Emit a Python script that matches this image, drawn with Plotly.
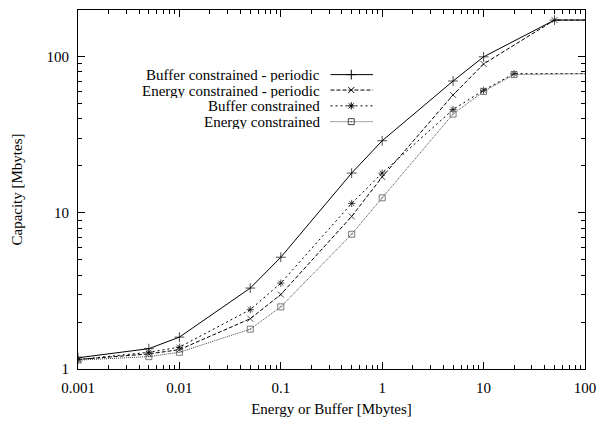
import plotly.graph_objects as go

# Data
buf_periodic_x = [0.001, 0.005, 0.01, 0.05, 0.1, 0.5, 1, 5, 10, 50, 100]
buf_periodic_y = [1.18, 1.35, 1.6, 3.3, 5.2, 18, 29, 70, 100, 172, 172]

energy_periodic_x = [0.001, 0.005, 0.01, 0.05, 0.1, 0.5, 1, 5, 10, 50, 100]
energy_periodic_y = [1.15, 1.25, 1.33, 2.1, 3.0, 9.5, 17, 57, 90, 172, 172]

buf_x = [0.001, 0.005, 0.01, 0.05, 0.1, 0.5, 1, 5, 10, 20, 100]
buf_y = [1.15, 1.28, 1.38, 2.4, 3.55, 11.5, 18, 46, 61, 78, 78]

energy_x = [0.001, 0.005, 0.01, 0.05, 0.1, 0.5, 1, 5, 10, 20, 100]
energy_y = [1.14, 1.2, 1.28, 1.8, 2.5, 7.3, 12.5, 43, 60, 77, 78]

series_names = ["Buffer constrained - periodic", "Energy constrained - periodic",
                "Buffer constrained", "Energy constrained"]

x_tick_vals = [0.001, 0.01, 0.1, 1, 10, 100]
x_tick_text = ["0.001", "0.01", "0.1", "1", "10", "100"]
y_tick_vals = [1, 10, 100]
y_tick_text = ["1", "10", "100"]

FONT = "Liberation Serif, Times New Roman, serif"
FS = 15
styles = [
    dict(color="black", dash="solid", symbol="cross-thin-open", size=7),
    dict(color="black", dash="4px,2px", symbol="x-thin-open", size=6),
    dict(color="black", dash="2px,3px", symbol="asterisk-open", size=6),
    dict(color="#444444", dash="1px,1px", symbol="square-open-dot", size=6),
]
data = [(buf_periodic_x, buf_periodic_y), (energy_periodic_x, energy_periodic_y),
        (buf_x, buf_y), (energy_x, energy_y)]

fig = go.Figure()
for (xs, ys), st, name in zip(data, styles, series_names):
    sizes = [st["size"]] * (len(xs) - 1) + [0]
    fig.add_trace(go.Scatter(
        x=xs, y=ys, mode="lines+markers", name=name, showlegend=False,
        line=dict(color=st["color"], width=1, dash=st["dash"]),
        marker=dict(symbol=st["symbol"], size=sizes, color=st["color"],
                    line=dict(width=1, color=st["color"])),
    ))

# Legend drawn gnuplot-style (text right-aligned, sample to its right)
leg_y = [0.820, 0.777, 0.733, 0.689]
for i, (st, name) in enumerate(zip(styles, series_names)):
    fig.add_trace(go.Scatter(
        x=[0.498, 0.582], y=[leg_y[i], leg_y[i]], xaxis="x2", yaxis="y2",
        mode="lines", showlegend=False, hoverinfo="skip",
        line=dict(color=st["color"], width=1, dash=st["dash"]),
    ))
    fig.add_trace(go.Scatter(
        x=[0.539], y=[leg_y[i]], xaxis="x2", yaxis="y2",
        mode="markers", showlegend=False, hoverinfo="skip",
        marker=dict(symbol=st["symbol"], size=st["size"], color=st["color"],
                    line=dict(width=1, color=st["color"])),
    ))
    fig.add_annotation(x=0.480, y=leg_y[i], xref="paper", yref="paper",
                       text=name, showarrow=False, xanchor="right", yanchor="middle",
                       height=15, borderpad=0,
                       font=dict(family=FONT, size=FS, color="black"))

minor_x = [m * 10 ** e for e in range(-3, 2) for m in range(2, 10)]
minor_y = [m * 10 ** e for e in range(0, 3) for m in range(2, 10)]

fig.update_layout(
    width=605, height=424,
    margin=dict(l=78, r=15, t=9, b=48),
    paper_bgcolor="white", plot_bgcolor="white",
    font=dict(family=FONT, size=FS, color="black"),
    xaxis=dict(
        type="log", range=[-3, 2], tickvals=x_tick_vals, ticktext=x_tick_text,
        ticks="inside", ticklen=7, tickcolor="black", showline=True, linecolor="black",
        linewidth=1, mirror="allticks", showgrid=False, zeroline=False,
        minor=dict(tickvals=minor_x, ticks="inside", ticklen=4, tickcolor="black", showgrid=False),
        title=dict(text="Energy or Buffer [Mbytes]", font=dict(family=FONT, size=FS), standoff=8),
        tickfont=dict(family=FONT, size=FS), ticklabelstandoff=5,
    ),
    yaxis=dict(
        type="log", range=[0, 2.3], tickvals=y_tick_vals, ticktext=y_tick_text,
        ticks="inside", ticklen=7, tickcolor="black", showline=True, linecolor="black",
        linewidth=1, mirror="allticks", showgrid=False, zeroline=False,
        minor=dict(tickvals=minor_y, ticks="inside", ticklen=4, tickcolor="black", showgrid=False),
        title=dict(text="Capacity [Mbytes]", font=dict(family=FONT, size=FS), standoff=20),
        tickfont=dict(family=FONT, size=FS), ticklabelstandoff=5,
    ),
    xaxis2=dict(overlaying="x", range=[0, 1], visible=False),
    yaxis2=dict(overlaying="y", range=[0, 1], visible=False),
    showlegend=False,
)

fig.write_html("out.html", config={"displayModeBar": False},
               post_script="document.body.style.margin='0';")
